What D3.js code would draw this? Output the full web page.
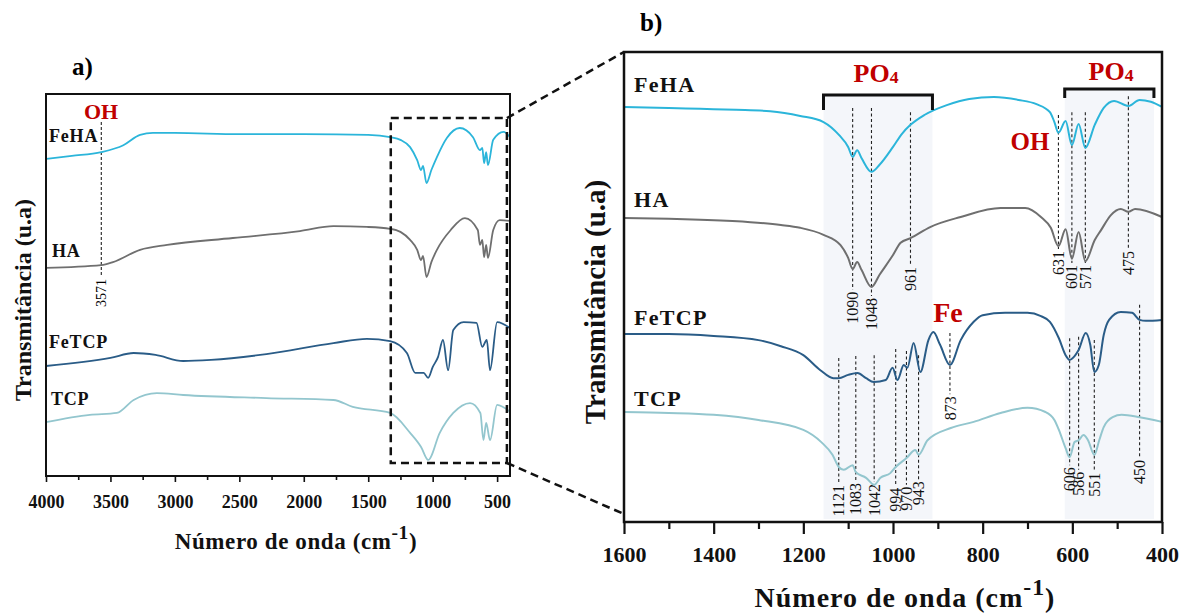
<!DOCTYPE html>
<html>
<head>
<meta charset="utf-8">
<script src="https://cdn.jsdelivr.net/npm/d3@7"></script>
<style>
  body { margin: 0; background: #fff; }
  text { font-family: "Liberation Serif", "Times New Roman", serif; }
</style>
</head>
<body>
<div id="chart"></div>
<script>
// ---- data: [wavenumber (cm-1), transmittance (a.u.)] ----

// panel a (full range)
var aFeHA = [[4000,83.0],[3800,83.8],[3571,84.8],[3400,86.6],[3270,89.3],[3170,89.8],[3000,89.8],[2500,89.5],[2000,89.5],[1500,89.3],[1330,88.7],[1250,88.0],[1175,86.1],[1120,82.7],[1090,80.1],[1075,81.2],[1048,76.7],[1010,80.1],[967,83.5],[890,88.5],[790,91.1],[687,88.7],[633,85.3],[615,85.9],[601,81.9],[585,84.8],[571,81.4],[530,88.0],[450,90.1],[400,88.7]];
var aHA = [[4000,54.5],[3571,55.2],[3480,56.0],[3270,59.2],[3060,60.5],[2550,62.3],[2030,64.1],[1770,65.4],[1510,65.2],[1330,64.7],[1250,63.9],[1175,61.8],[1120,59.2],[1090,56.5],[1075,57.6],[1048,52.1],[1010,56.0],[967,59.2],[860,64.4],[750,67.5],[650,64.4],[633,60.5],[615,61.8],[601,57.3],[585,60.5],[571,57.1],[530,64.4],[480,67.0],[400,66.8]];
var aFeTCP = [[4000,28.8],[3500,30.9],[3320,32.2],[3150,31.7],[2935,30.1],[2720,30.4],[2290,31.9],[1770,34.8],[1510,35.9],[1330,35.3],[1200,32.2],[1135,27.0],[1070,27.0],[1035,25.7],[1000,28.5],[958,31.2],[920,35.6],[880,27.7],[840,38.2],[760,40.3],[660,40.1],[615,33.8],[580,35.6],[555,27.7],[500,40.3],[400,38.7]];
var aTCP = [[4000,14.1],[3660,16.0],[3450,16.5],[3320,19.9],[3140,21.7],[2935,21.2],[2290,20.4],[1770,19.9],[1620,18.1],[1330,16.5],[1175,11.3],[1090,7.6],[1035,4.2],[945,11.3],[840,16.5],[710,19.1],[630,16.5],[606,9.4],[585,13.9],[555,9.4],[500,18.6],[400,16.8]];

// panel b (zoom 1600-400)
var bFeHA = [[1600,88.3],[1500,88.1],[1430,87.9],[1350,87.7],[1274,87.4],[1207,86.4],[1155,85.1],[1120,82.3],[1100,79.8],[1090,77.7],[1080,79.1],[1070,77.4],[1048,74.5],[1030,76.0],[1000,79.8],[980,82.6],[961,84.5],[930,86.6],[880,88.7],[830,90.0],[775,90.4],[720,89.8],[680,88.9],[650,87.2],[640,85.1],[631,82.8],[615,85.3],[601,80.2],[586,84.7],[571,79.6],[550,84.5],[530,88.1],[507,89.6],[475,88.5],[450,89.8],[425,89.4],[400,88.3]];
var bHA = [[1600,64.7],[1500,64.5],[1430,64.3],[1318,63.8],[1250,63.2],[1207,62.6],[1155,61.1],[1117,58.9],[1100,56.2],[1090,53.8],[1080,55.3],[1070,53.6],[1048,50.0],[1030,52.6],[1000,56.8],[983,59.4],[961,60.4],[916,62.8],[849,64.9],[760,66.8],[705,66.8],[670,64.9],[648,62.6],[631,58.7],[615,62.3],[601,56.0],[586,61.7],[571,55.5],[550,60.0],[536,62.1],[514,65.3],[492,66.6],[475,66.0],[460,66.6],[400,64.9]];
var bFeTCP = [[1600,40.0],[1500,40.0],[1400,39.6],[1300,38.7],[1250,37.4],[1200,35.5],[1162,32.3],[1133,30.6],[1121,30.6],[1100,31.3],[1079,31.7],[1060,30.6],[1043,29.8],[1016,30.2],[1001,32.8],[990,30.2],[976,33.4],[968,32.8],[954,38.1],[939,31.9],[921,38.7],[910,40.4],[895,37.7],[873,33.4],[849,38.7],[820,42.6],[800,44.0],[750,44.5],[700,44.5],[670,43.8],[650,42.6],[630,39.1],[615,35.5],[606,34.5],[595,35.3],[586,36.6],[570,40.2],[560,37.7],[551,31.9],[541,33.4],[530,39.8],[518,43.0],[492,44.7],[467,44.5],[450,43.0],[436,42.8],[400,43.0]];
var bTCP = [[1600,23.4],[1500,23.2],[1400,22.8],[1300,21.7],[1200,19.6],[1160,17.0],[1135,14.3],[1121,11.7],[1110,11.1],[1090,12.1],[1083,10.6],[1060,9.4],[1042,7.9],[1028,9.4],[1006,10.4],[994,11.7],[970,13.6],[950,15.3],[943,14.3],[923,17.4],[871,20.0],[820,21.3],[760,23.2],[700,24.3],[660,23.4],[640,21.7],[630,19.6],[615,15.7],[606,13.8],[595,17.0],[586,17.4],[575,18.5],[565,17.4],[551,14.3],[540,17.4],[530,20.2],[510,22.3],[490,22.8],[450,22.3],[400,21.3]];

var seriesNames = ['FeHA', 'HA', 'FeTCP', 'TCP'];
var seriesColors = ['#2BB5DA', '#6F6F6F', '#2A5C87', '#93C6CE'];

// ticks
var majorA = [4000, 3500, 3000, 2500, 2000, 1500, 1000, 500];
var minorA = [3750, 3250, 2750, 2250, 1750, 1250, 750];
var majorB = [1600, 1400, 1200, 1000, 800, 600, 400];
var minorB = [1500, 1300, 1100, 900, 700, 500];

// peak markers in panel b: [wavenumber, top, bottom]
var peaksUpper = [[1090,88.1,49.4],[1048,88.1,48.1],[961,87.2,54.7],[631,86.6,58.1],[601,87.2,55.1],[571,87.2,55.1],[475,90.6,58.1]];
var peaksLower = [[1121,34.9,8.3],[1083,35.3,8.7],[1042,35.5,8.5],[994,36.8,7.7],[970,36.4,7.9],[943,35.5,9.1],[873,40.2,27.2],[606,39.1,12.1],[586,39.4,11.1],[551,38.7,10.9],[450,46.2,13.6]];
var peakA = [3571, 92.7, 52.1];

// PO4 bands [from, to]
var po4Bands = [[1155, 912], [617, 418]];
// zoomed region in panel a
var zoomBox = [1325, 424, 93.7, 3.4];


var svg = d3.select('#chart')
    .append('svg')
    .attr('width', 1180)
    .attr('height', 615);

svg.append('rect').attr('width', 1180).attr('height', 615).attr('fill', '#fff');

var xA = d3.scaleLinear().domain([4000, 400]).range([46, 510]);
var yA = d3.scaleLinear().domain([0, 100]).range([476, 94]);
var xB = d3.scaleLinear().domain([1600, 400]).range([624, 1162]);
var yB = d3.scaleLinear().domain([0, 100]).range([522, 52]);

var lineA = d3.line().x(d => xA(d[0])).y(d => yA(d[1])).curve(d3.curveMonotoneX);
var lineB = d3.line().x(d => xB(d[0])).y(d => yB(d[1])).curve(d3.curveMonotoneX);

// ---------- panel b background bands ----------
var bracketY = [95, 89];
po4Bands.forEach((b, i) => {
    svg.append('rect')
        .attr('x', xB(b[0]))
        .attr('y', bracketY[i])
        .attr('width', xB(b[1]) - xB(b[0]))
        .attr('height', 522 - bracketY[i] - 3)
        .attr('fill', '#F4F6FA');
});

// ---------- dashed peak lines ----------
function peakLines(list, fs) {
    list.forEach(p => {
        svg.append('line')
            .attr('x1', xB(p[0])).attr('x2', xB(p[0]))
            .attr('y1', yB(p[1])).attr('y2', yB(p[2]))
            .attr('stroke', '#222').attr('stroke-width', 1.1)
            .attr('stroke-dasharray', '3,2.5');
        svg.append('text')
            .attr('transform', 'translate(' + xB(p[0]) + ',' + (yB(p[2]) + 2) + ') rotate(-90)')
            .attr('text-anchor', 'end')
            .attr('dy', '0.35em')
            .style('font-size', fs + 'px')
            .attr('fill', '#111')
            .text(p[0]);
    });
}
peakLines(peaksUpper, 16);
peakLines(peaksLower, 16);

svg.append('line')
    .attr('x1', xA(peakA[0])).attr('x2', xA(peakA[0]))
    .attr('y1', yA(peakA[1])).attr('y2', yA(peakA[2]))
    .attr('stroke', '#222').attr('stroke-width', 1.1)
    .attr('stroke-dasharray', '3,2');
svg.append('text')
    .attr('transform', 'translate(' + xA(peakA[0]) + ',' + (yA(peakA[2]) + 2) + ') rotate(-90)')
    .attr('text-anchor', 'end')
    .attr('dy', '0.35em')
    .style('font-size', '14px')
    .text(peakA[0]);

// ---------- curves ----------
[aFeHA, aHA, aFeTCP, aTCP].forEach((s, i) => {
    svg.append('path')
        .datum(s)
        .attr('d', lineA)
        .attr('fill', 'none')
        .attr('stroke', seriesColors[i])
        .attr('stroke-width', 1.8);
});
[bFeHA, bHA, bFeTCP, bTCP].forEach((s, i) => {
    svg.append('path')
        .datum(s)
        .attr('d', lineB)
        .attr('fill', 'none')
        .attr('stroke', seriesColors[i])
        .attr('stroke-width', 2);
});

// ---------- brackets ----------
var bracketLeg = [110, 98];
po4Bands.forEach((b, i) => {
    var x0 = xB(b[0]), x1 = xB(b[1]);
    svg.append('path')
        .attr('d', 'M' + x0 + ',' + bracketLeg[i] + 'V' + bracketY[i] + 'H' + x1 + 'V' + bracketLeg[i])
        .attr('fill', 'none')
        .attr('stroke', '#111')
        .attr('stroke-width', 3);
});

// ---------- frames ----------
svg.append('rect')
    .attr('x', 46).attr('y', 94).attr('width', 510 - 46).attr('height', 476 - 94)
    .attr('fill', 'none').attr('stroke', '#111').attr('stroke-width', 2);
svg.append('rect')
    .attr('x', 624).attr('y', 52).attr('width', 1162 - 624).attr('height', 522 - 52)
    .attr('fill', 'none').attr('stroke', '#111').attr('stroke-width', 2.5);

// zoom box + connectors
var zx0 = xA(zoomBox[0]), zx1 = xA(zoomBox[1]), zy0 = yA(zoomBox[2]), zy1 = yA(zoomBox[3]);
svg.append('rect')
    .attr('x', zx0).attr('y', zy0).attr('width', zx1 - zx0).attr('height', zy1 - zy0)
    .attr('fill', 'none').attr('stroke', '#111').attr('stroke-width', 2.5)
    .attr('stroke-dasharray', '8,5');
svg.append('line')
    .attr('x1', zx1).attr('y1', zy0).attr('x2', xB(1600)).attr('y2', yB(100))
    .attr('stroke', '#111').attr('stroke-width', 2.5).attr('stroke-dasharray', '8,5');
svg.append('line')
    .attr('x1', zx1).attr('y1', zy1).attr('x2', xB(1600)).attr('y2', yB(1.7))
    .attr('stroke', '#111').attr('stroke-width', 2.5).attr('stroke-dasharray', '8,5');

// ---------- axes ----------
function styleAxis(g, fs, sw) {
    g.select('.domain').remove();
    g.selectAll('line').attr('stroke', '#111').attr('stroke-width', sw);
    g.selectAll('text')
        .style('font-size', fs + 'px')
        .style('font-weight', 'bold')
        .attr('fill', '#111');
}

svg.append('g')
    .attr('transform', 'translate(0,476)')
    .call(d3.axisBottom(xA).tickValues(majorA).tickSize(6).tickPadding(13).tickFormat(d3.format('d')))
    .call(g => styleAxis(g, 18, 1.6));
svg.append('g')
    .attr('transform', 'translate(0,476)')
    .call(d3.axisBottom(xA).tickValues(minorA).tickSize(4).tickFormat(''))
    .call(g => styleAxis(g, 18, 1.6));

svg.append('g')
    .attr('transform', 'translate(0,522)')
    .call(d3.axisBottom(xB).tickValues(majorB).tickSize(12).tickPadding(12).tickFormat(d3.format('d')))
    .call(g => styleAxis(g, 22, 2.2));
svg.append('g')
    .attr('transform', 'translate(0,522)')
    .call(d3.axisBottom(xB).tickValues(minorB).tickSize(7).tickFormat(''))
    .call(g => styleAxis(g, 22, 2.2));

// ---------- axis titles ----------
function xTitle(x, y, fs, ls) {
    var t = svg.append('text')
        .attr('x', x).attr('y', y)
        .attr('text-anchor', 'middle')
        .style('font-size', fs + 'px')
        .style('font-weight', 'bold')
        .style('letter-spacing', ls + 'px')
        .attr('fill', '#111');
    t.append('tspan').text('Número de onda (cm');
    t.append('tspan').attr('dy', -fs * 0.42).style('font-size', (fs * 0.85) + 'px').text('-1');
    t.append('tspan').attr('dy', fs * 0.42).text(')');
}
xTitle(296, 549, 23, 0.6);
xTitle(905, 607, 28, 1);

svg.append('text')
    .attr('transform', 'translate(31,300) rotate(-90)')
    .attr('text-anchor', 'middle')
    .style('font-size', '24px').style('font-weight', 'bold')
    .attr('fill', '#111')
    .text('Transmitância (u.a)');
svg.append('text')
    .attr('transform', 'translate(605,302) rotate(-90)')
    .attr('text-anchor', 'middle')
    .style('font-size', '29px').style('font-weight', 'bold')
    .attr('fill', '#111')
    .text('Transmitância (u.a)');

// ---------- panel letters ----------
svg.append('text').attr('x', 72).attr('y', 75)
    .style('font-size', '25px').style('font-weight', 'bold').text('a)');
svg.append('text').attr('x', 640).attr('y', 31)
    .style('font-size', '25px').style('font-weight', 'bold').text('b)');

// ---------- series labels ----------
var labelsA = [[49, 142], [52, 257], [49, 348], [51, 405]];
var labelsB = [[634, 92], [634, 207], [634, 325], [634, 406]];
seriesNames.forEach((n, i) => {
    svg.append('text').attr('x', labelsA[i][0]).attr('y', labelsA[i][1])
        .style('font-size', '18px').style('font-weight', 'bold')
        .style('letter-spacing', '0.8px')
        .attr('fill', '#111').text(n);
    svg.append('text').attr('x', labelsB[i][0]).attr('y', labelsB[i][1])
        .style('font-size', '22px').style('font-weight', 'bold')
        .style('letter-spacing', '1.3px')
        .attr('fill', '#111').text(n);
});

// ---------- red group labels ----------
var red = '#C00000';
function redLabel(x, y, fs, main, sub) {
    var t = svg.append('text').attr('x', x).attr('y', y)
        .attr('text-anchor', 'middle')
        .style('font-size', fs + 'px').style('font-weight', 'bold')
        .attr('fill', red);
    t.append('tspan').text(main);
    if (sub) t.append('tspan').style('font-size', (fs * 0.68) + 'px').attr('dy', 1).text(sub);
}
redLabel(101, 119, 22, 'OH');
redLabel(876, 82, 26, 'PO', '4');
redLabel(1111, 80, 26, 'PO', '4');
redLabel(1030, 150, 25, 'OH');
redLabel(948, 322, 28, 'Fe');
</script>
</body>
</html>
